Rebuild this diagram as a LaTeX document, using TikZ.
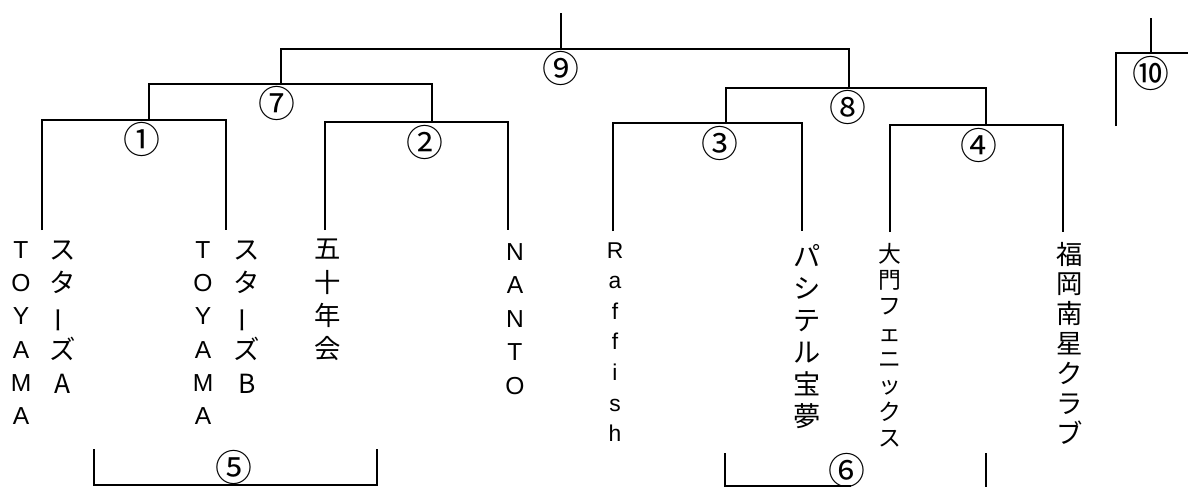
\documentclass[tikz,border=0pt]{standalone}
\usepackage{fontspec}
\usepackage{graphicx}
\setmainfont{Noto Sans CJK JP}
\newfontfamily\latin{Liberation Sans}
\newcommand\vbar{\rotatebox[origin=c]{90}{ー}}
\tikzset{num/.style={font=\fontsize{21}{21}\selectfont,inner sep=0},
	team/.style={inner sep=0,align=center}}
\begin{document}
\begin{tikzpicture}[x=.02cm,y=-.02cm,line width=1.3pt]
	\useasboundingbox (0,0) rectangle (1188,487);
	\path 
	(42,230) coordinate (A1) (226,230) coordinate (A2) (325,230) coordinate (A3) (508,230) coordinate (A4)
	(613,231) coordinate (A5) (802,231) coordinate (A6) (890,232) coordinate (A7) (1063,232) coordinate (A8)
	(149,120) coordinate (M1) (432,122) coordinate (M2) (726,123) coordinate (M3) (986,125) coordinate (M4)
	(281,84) coordinate (M7) (849,88) coordinate (M8) (561,49) coordinate (M9) (561,13) coordinate (T)
	(1151,53) coordinate (M10) (1151,18) coordinate (T10) (1116,126) coordinate (L10) (1188,53) coordinate (R10)
	(94,449) coordinate (B5) (377,449) coordinate (C5) (725,453) coordinate (B6) (986,453) coordinate (C6);
	\draw (A1) |- (M1) -| (A2) (A3) |- (M2) -| (A4) (A5) |- (M3) -| (A6) (A7) |- (M4) -| (A8);
	\draw (M1) |- (M7) -| (M2) (M3) |- (M8) -| (M4) (M7) |- (M9) -| (M8) (M9) -- (T);
	\draw (L10) |- (M10) -- (R10) (M10) -- (T10);
	\draw (B5) -- ++(0,36) -| (C5) (B6) -- ++(0,33) -- ++(126,0) (C6) -- ++(0,34);
	\foreach \n/\c/\x/\y in {1/①/142/139,2/②/425/142,3/③/720/143,4/④/979/145,5/⑤/234/467,
		6/⑥/847/470,7/⑦/277/103,8/⑧/848/107,9/⑨/561/68,10/⑩/1151/73}
	\node[num] (n\n) at (\x,\y) {\c};
	\node[team,font=\latin\fontsize{14}{19}\selectfont] (toyamaA) at (21,333) {T\\O\\Y\\A\\M\\A};
	\node[team,font=\fontsize{15}{19}\selectfont] (starsA) at (63,317) {ス\\タ\\\vbar\\ズ\\A};
	\node[team,font=\latin\fontsize{14}{19}\selectfont] (toyamaB) at (203,333) {T\\O\\Y\\A\\M\\A};
	\node[team,font=\fontsize{15}{19}\selectfont] (starsB) at (247,317) {ス\\タ\\\vbar\\ズ\\B};
	\node[team,font=\fontsize{15}{19}\selectfont] (gojunen) at (328,300) {五\\十\\年\\会};
	\node[team,font=\latin\fontsize{14}{19}\selectfont] (nanto) at (515,319) {N\\A\\N\\T\\O};
	\node[team,font=\latin\fontsize{13}{17.4}\selectfont] (raffish) at (615,342) {R\\a\\f\\f\\i\\s\\h};
	\node[team,font=\fontsize{15.5}{18.2}\selectfont] (pasiteru) at (807,337) {パ\\シ\\テ\\ル\\宝\\夢};
	\node[team,font=\fontsize{13}{15}\selectfont] (daimon) at (890,345) {大\\門\\フ\\ェ\\ニ\\ッ\\ク\\ス};
	\node[team,font=\fontsize{15}{17}\selectfont] (fukuoka) at (1070,343) {福\\岡\\南\\星\\ク\\ラ\\ブ};
\end{tikzpicture}
\end{document}
